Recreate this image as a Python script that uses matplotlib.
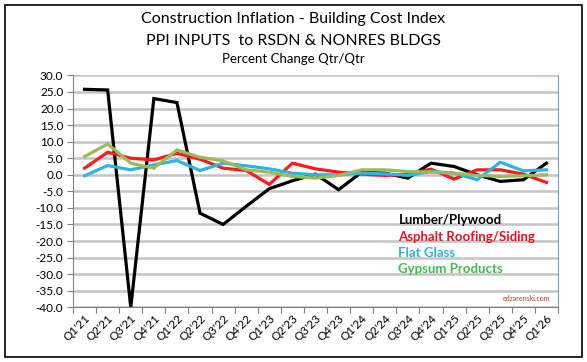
import matplotlib
matplotlib.use("Agg")
import matplotlib.pyplot as plt
from matplotlib.patches import Rectangle

plt.rcParams['font.family'] = ['Lato', 'DejaVu Sans']

quarters = ["Q1'21", "Q2'21", "Q3'21", "Q4'21", "Q1'22", "Q2'22", "Q3'22", "Q4'22",
            "Q1'23", "Q2'23", "Q3'23", "Q4'23", "Q1'24", "Q2'24", "Q3'24", "Q4'24",
            "Q1'25", "Q2'25", "Q3'25", "Q4'25", "Q1'26"]
lumber = [25.8, 25.6, -40.0, 23.0, 21.8, -11.6, -15.0, -9.5, -4.2, -1.8, 0.2, -4.5,
          0.8, 0.5, -1.0, 3.5, 2.5, 0.0, -2.0, -1.5, 3.5]
asphalt = [2.0, 6.8, 5.0, 4.5, 6.5, 4.7, 2.0, 1.3, -2.9, 3.5, 1.8, 0.8,
           0.2, -0.2, 0.2, 1.7, -1.3, 1.5, 1.5, 0.2, -2.3]
glass = [-0.3, 2.8, 1.5, 3.0, 4.3, 1.3, 3.5, 2.7, 1.8, 0.5, 0.0, 0.0,
         0.5, 0.3, -0.2, 1.0, 0.5, -1.5, 3.8, 1.2, 1.5]
gypsum = [5.5, 9.3, 3.5, 2.0, 7.5, 5.3, 4.2, 1.5, 0.8, -0.5, -1.0, -0.2,
          1.5, 1.5, 1.0, 0.8, 0.5, -0.2, -0.5, -0.3, 0.0]

names = ['Lumber/Plywood', 'Asphalt Roofing/Siding', 'Flat Glass', 'Gypsum Products']
line_colors = ['#000000', '#FF1A1A', '#2CB5E0', '#9BBB59']
text_colors = ['#000000', '#E8141E', '#2CB5E0', '#3DBF4A']

fig = plt.figure(figsize=(5.87, 3.62), dpi=100)
fig.patches.append(Rectangle((0.009, 0.014), 0.982, 0.972, transform=fig.transFigure,
                             fill=False, edgecolor='black', linewidth=1.2))
ax = fig.add_axes([0.1244, 0.1511, 0.8262, 0.6406])

x = list(range(len(quarters)))
for series, c in zip([lumber, asphalt, glass, gypsum], line_colors):
    ax.plot(x, series, color=c, linewidth=2.3, solid_joinstyle='miter')

ax.set_ylim(-40, 30)
ax.set_yticks(range(-40, 31, 5))
ax.set_yticklabels(['%.1f' % v for v in range(-40, 31, 5)], fontsize=8.5)
ax.set_xlim(-0.5, len(quarters) - 0.5)
ax.set_xticks([i - 0.5 for i in range(len(quarters) + 1)], minor=False)
ax.set_xticklabels([])
ax.set_xticks(x, minor=True)
ax.set_xticklabels(quarters, minor=True, rotation=45, ha='right',
                   rotation_mode='anchor', fontsize=8.5)
ax.tick_params(axis='x', which='minor', length=0, pad=4)
ax.tick_params(axis='x', which='major', length=4, color='#808080')
ax.tick_params(axis='y', length=4, color='#808080', pad=3)
ax.grid(axis='y', color='#C4C4C4', linewidth=1.8)
ax.set_axisbelow(True)
ax.spines['top'].set_visible(False)
ax.spines['right'].set_color('#7F9DB9')
ax.spines['left'].set_color('#808080')
ax.spines['bottom'].set_color('#808080')

for i, (n, c) in enumerate(zip(names, text_colors)):
    ax.text(0.671, 0.375 - i * 0.070, n, transform=ax.transAxes, color=c,
            fontsize=9.5, fontweight='bold', va='center', ha='left')

ax.text(0.985, 0.025, 'edzarenski.com', transform=ax.transAxes, color='#C0392B',
        fontsize=5, ha='right', va='bottom')

fig.text(0.5, 0.948, 'Construction Inflation - Building Cost Index', ha='center',
         va='center', fontsize=11.5)
fig.text(0.5, 0.887, 'PPI INPUTS  to RSDN & NONRES BLDGS', ha='center',
         va='center', fontsize=11.5)
fig.text(0.5, 0.838, 'Percent Change Qtr/Qtr', ha='center', va='center', fontsize=9.5)

fig.savefig('out.png', dpi=100)
